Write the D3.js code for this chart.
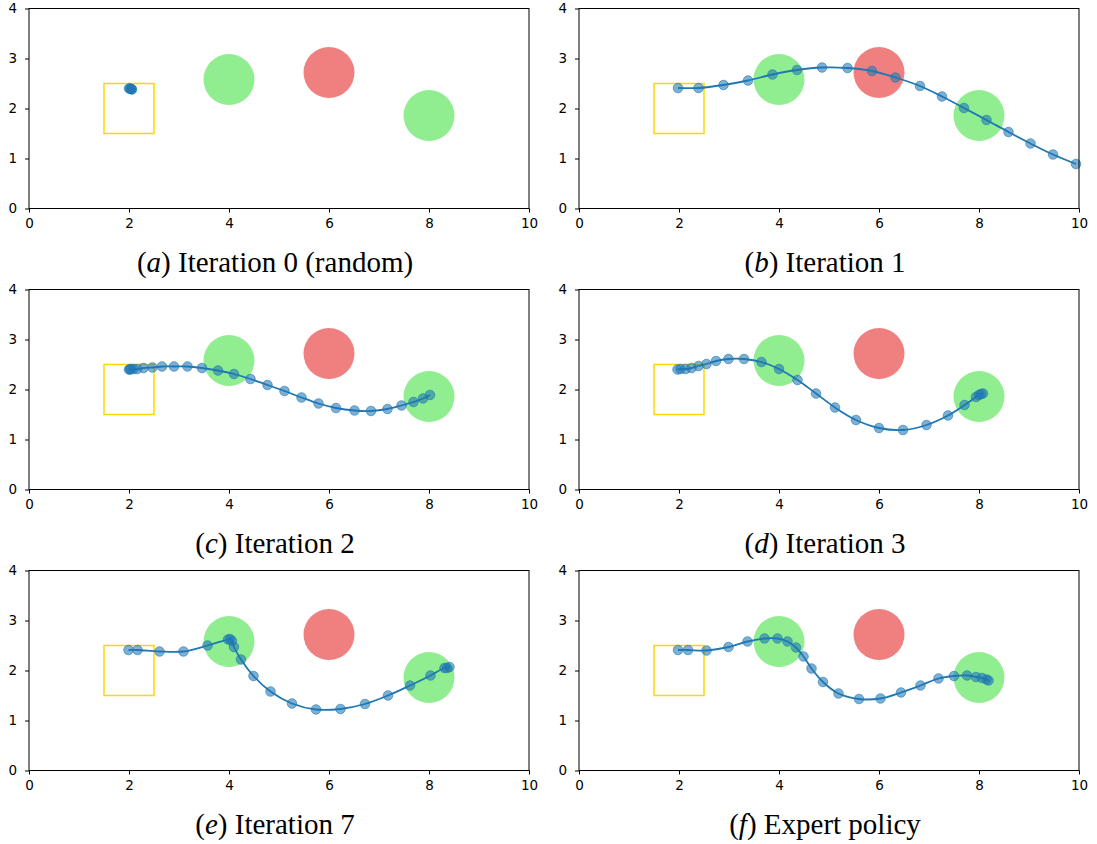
<!DOCTYPE html>
<html>
<head>
<meta charset="utf-8">
<script src="https://cdn.jsdelivr.net/npm/d3@7"></script>
<style>
  body { margin: 0; background: #fff; }
  .caption { font-family: "Liberation Serif", "Times New Roman", serif; font-size: 29px; fill: #000; }
</style>
</head>
<body>
<svg id="fig" width="1097" height="844"></svg>
<script>
// panel letters and caption text
var panelLetters = ["a", "b", "c", "d", "e", "f"];
var panelTitles = ["Iteration 0 (random)", "Iteration 1", "Iteration 2", "Iteration 3", "Iteration 7", "Expert policy"];

// scene (same in all panels)
var goals = [[4, 2.58], [8, 1.86]];
var obstacles = [[6, 2.72]];
var objRadius = 0.51;
var startBox = [1.5, 1.5, 2.5, 2.5];

var xTicks = [0, 2, 4, 6, 8, 10];
var yTicks = [0, 1, 2, 3, 4];

// trajectories
var trajA = [[2.0, 2.40], [2.02, 2.40], [2.04, 2.39], [2.06, 2.38], [2.05, 2.39]];
var trajB = [[1.98, 2.41], [2.39, 2.41], [2.89, 2.47], [3.38, 2.56], [3.87, 2.68], [4.36, 2.77], [4.86, 2.82],
  [5.37, 2.81], [5.86, 2.75], [6.33, 2.62], [6.82, 2.45], [7.26, 2.24], [7.70, 2.01], [8.15, 1.77],
  [8.59, 1.53], [9.03, 1.30], [9.48, 1.08], [9.94, 0.89]];
var trajC = [[2.0, 2.40], [2.02, 2.40], [2.04, 2.41], [2.09, 2.41], [2.16, 2.41], [2.29, 2.43], [2.47, 2.44],
  [2.66, 2.46], [2.90, 2.46], [3.17, 2.46], [3.46, 2.43], [3.78, 2.38], [4.10, 2.31], [4.43, 2.21],
  [4.77, 2.09], [5.11, 1.97], [5.45, 1.84], [5.79, 1.72], [6.14, 1.63], [6.51, 1.58], [6.84, 1.57],
  [7.17, 1.61], [7.45, 1.68], [7.69, 1.75], [7.88, 1.82], [8.02, 1.89]];
var trajD = [[1.97, 2.40], [2.03, 2.41], [2.13, 2.41], [2.25, 2.43], [2.39, 2.47], [2.55, 2.51], [2.74, 2.57],
  [2.99, 2.61], [3.30, 2.61], [3.65, 2.55], [4.00, 2.41], [4.37, 2.19], [4.74, 1.92], [5.12, 1.64],
  [5.54, 1.39], [6.00, 1.23], [6.48, 1.19], [6.95, 1.29], [7.38, 1.48], [7.71, 1.69], [7.94, 1.85],
  [8.00, 1.89], [8.04, 1.91], [8.08, 1.92]];
var trajE = [[1.99, 2.41], [2.17, 2.41], [2.61, 2.38], [3.09, 2.38], [3.57, 2.50], [3.98, 2.62], [4.02, 2.63],
  [4.06, 2.59], [4.10, 2.47], [4.24, 2.22], [4.49, 1.89], [4.83, 1.58], [5.26, 1.34], [5.74, 1.22],
  [6.23, 1.23], [6.72, 1.33], [7.18, 1.50], [7.62, 1.70], [8.03, 1.90], [8.31, 2.05], [8.36, 2.05], [8.41, 2.07]];
var trajF = [[1.98, 2.41], [2.18, 2.41], [2.55, 2.40], [2.99, 2.47], [3.37, 2.58], [3.71, 2.64], [3.97, 2.64],
  [4.17, 2.58], [4.34, 2.46], [4.49, 2.28], [4.65, 2.04], [4.88, 1.77], [5.19, 1.54], [5.60, 1.43],
  [6.03, 1.44], [6.44, 1.56], [6.83, 1.70], [7.19, 1.84], [7.50, 1.89], [7.76, 1.90], [7.94, 1.87],
  [8.06, 1.85], [8.15, 1.82], [8.19, 1.80]];
var trajectories = [trajA, trajB, trajC, trajD, trajE, trajF];

var panelW = 500, panelH = 200;
var colLeft = [29, 579];
var rowTop = [8.5, 289.5, 570.5];

var svg = d3.select("#fig");

var xScale = d3.scaleLinear().domain([0, 10]).range([0, panelW]);
var yScale = d3.scaleLinear().domain([0, 4]).range([panelH, 0]);

var line = d3.line()
  .x(d => xScale(d[0]))
  .y(d => yScale(d[1]))
  .curve(d3.curveCatmullRom.alpha(0.5));

trajectories.forEach(function(traj, i) {
  var col = i % 2, row = Math.floor(i / 2);
  var g = svg.append("g")
    .attr("transform", `translate(${colLeft[col]}, ${rowTop[row]})`);

  // goals and obstacle
  g.selectAll("ellipse.goal")
    .data(goals)
    .enter()
    .append("ellipse")
    .attr("class", "goal")
    .attr("cx", d => xScale(d[0]))
    .attr("cy", d => yScale(d[1]))
    .attr("rx", xScale(objRadius) - xScale(0))
    .attr("ry", yScale(0) - yScale(objRadius))
    .attr("fill", "#90ee90");

  g.selectAll("ellipse.obs")
    .data(obstacles)
    .enter()
    .append("ellipse")
    .attr("class", "obs")
    .attr("cx", d => xScale(d[0]))
    .attr("cy", d => yScale(d[1]))
    .attr("rx", xScale(objRadius) - xScale(0))
    .attr("ry", yScale(0) - yScale(objRadius))
    .attr("fill", "#f08080");

  // start region
  g.append("rect")
    .attr("x", xScale(startBox[0]))
    .attr("y", yScale(startBox[3]))
    .attr("width", xScale(startBox[2]) - xScale(startBox[0]))
    .attr("height", yScale(startBox[1]) - yScale(startBox[3]))
    .attr("fill", "none")
    .attr("stroke", "#ffd700")
    .attr("stroke-width", 1.5);

  // trajectory line
  g.append("path")
    .datum(traj)
    .attr("d", line)
    .attr("fill", "none")
    .attr("stroke", "#1f77b4")
    .attr("stroke-width", 1.8);

  // trajectory points
  g.selectAll("circle.pt")
    .data(traj)
    .enter()
    .append("circle")
    .attr("class", "pt")
    .attr("cx", d => xScale(d[0]))
    .attr("cy", d => yScale(d[1]))
    .attr("r", 4.8)
    .attr("fill", "#1f77b4")
    .attr("fill-opacity", 0.58)
    .attr("stroke", "#1f77b4")
    .attr("stroke-opacity", 0.58)
    .attr("stroke-width", 1);

  // axes
  var xAxis = d3.axisBottom(xScale).tickValues(xTicks).tickFormat(d3.format("d"))
    .tickSize(4).tickSizeOuter(0).tickPadding(6);
  var yAxis = d3.axisLeft(yScale).tickValues(yTicks).tickFormat(d3.format("d"))
    .tickSize(4).tickSizeOuter(0).tickPadding(8);

  var gx = g.append("g").attr("transform", `translate(0, ${panelH})`).call(xAxis);
  var gy = g.append("g").call(yAxis);
  [gx, gy].forEach(function(ax) {
    ax.select(".domain").remove();
    ax.selectAll(".tick line").attr("stroke", "#000");
    ax.selectAll(".tick text")
      .style("font-family", "'DejaVu Sans', sans-serif")
      .style("font-size", "13.5px")
      .attr("fill", "#000");
  });

  // frame
  g.append("rect")
    .attr("x", 0)
    .attr("y", 0)
    .attr("width", panelW)
    .attr("height", panelH)
    .attr("fill", "none")
    .attr("stroke", "#000")
    .attr("stroke-width", 1);

  // caption
  var cap = g.append("text")
    .attr("class", "caption")
    .attr("x", panelW / 2 - 4)
    .attr("y", 263.5)
    .attr("text-anchor", "middle");
  cap.append("tspan").text("(");
  cap.append("tspan").attr("font-style", "italic").text(panelLetters[i]);
  cap.append("tspan").text(") " + panelTitles[i]);
});
</script>
</body>
</html>
